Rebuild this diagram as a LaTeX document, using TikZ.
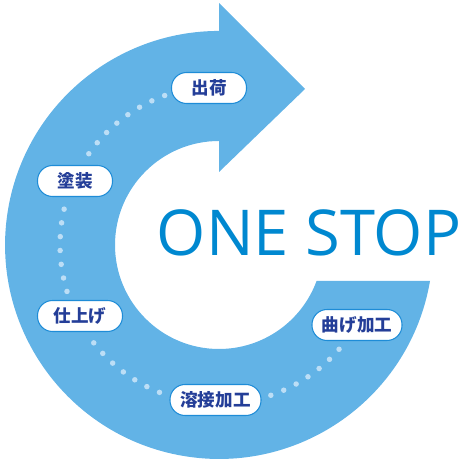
\documentclass[tikz,border=0pt]{standalone}
\usepackage{fontspec}
\setmainfont{Open Sans}
\newfontfamily\jpfont{Noto Sans CJK JP}
\definecolor{ringblue}{RGB}{98,179,230}
\definecolor{dotblue}{RGB}{188,222,246}
\definecolor{pillline}{RGB}{30,140,215}
\definecolor{labelblue}{RGB}{36,62,152}
\definecolor{stopblue}{RGB}{0,136,208}
\begin{document}
\begin{tikzpicture}[
    scale=0.02, line join=round,
    pill/.style={draw=pillline, line width=0.6pt, fill=white,
      rounded corners=0.3cm, minimum height=0.62cm, minimum width=#1,
      inner sep=0pt, text=labelblue,
      font=\jpfont\bfseries\fontsize{10}{12}\selectfont},
    pill/.default=1.5cm,
    dot/.style={circle, fill=dotblue, inner sep=0pt, minimum size=0.11cm}]
  \useasboundingbox (0,0) rectangle (470,470);
  \coordinate (c) at (219,225);
  % Flecha circular
  \fill[ringblue] (430,189) arc[start angle=-9.7, end angle=-270, radius=214]
    -- (219,467) -- (305,381) -- (219,298) -- (219,329)
    arc[start angle=90, end angle=339.8, radius=104] -- cycle;
  % Puntos
  \foreach \a in {110,115,...,145, 167,172,...,197, 218,223,...,248, 289,294,...,319}
    \node[dot] at ([shift={(\a:159)}]c) {};
  % Etapas
  \node[pill] (shukka) at (209,382) {出荷};
  \node[pill] (tosou) at (75,289) {塗装};
  \node[pill=1.7cm] (shiage) at (80,154) {仕上げ};
  \node[pill=1.82cm] (yousetsu) at (215.5,70) {溶接加工};
  \node[pill=1.8cm] (mage) at (357,145) {曲げ加工};
  % Texto
  \node[font=\fontsize{36}{40}\selectfont, text=stopblue, inner sep=0pt]
    (onestop) at (309,237) {ONE STOP};
\end{tikzpicture}
\end{document}
